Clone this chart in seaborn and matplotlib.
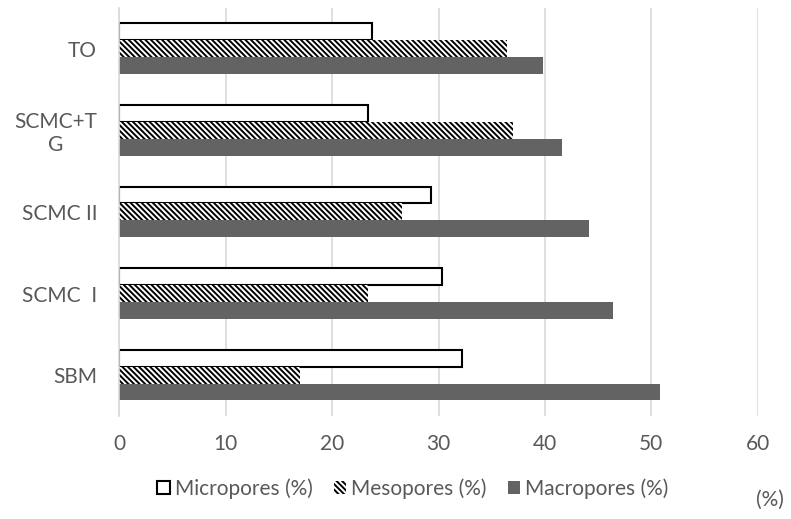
import matplotlib
matplotlib.use("Agg")
import matplotlib.pyplot as plt
from matplotlib.patches import Patch
import seaborn as sns
import pandas as pd

# Pore-size distribution per sample
samples = ["TO", "SCMC+T\nG", "SCMC II", "SCMC  I", "SBM"]
micropores = [23.7, 23.4, 29.3, 30.3, 32.2]
mesopores = [36.4, 37.0, 26.6, 23.4, 17.0]
macropores = [39.8, 41.6, 44.1, 46.4, 50.8]
series = ["Micropores (%)", "Mesopores (%)", "Macropores (%)"]
x_ticks = [0, 10, 20, 30, 40, 50, 60]

df = pd.DataFrame({
    "sample": samples * 3,
    "series": [series[0]] * 5 + [series[1]] * 5 + [series[2]] * 5,
    "value": micropores + mesopores + macropores,
})

sns.set_theme(style="white")
plt.rcParams["font.family"] = ["Lato", "DejaVu Sans"]
plt.rcParams["hatch.linewidth"] = 1.4
plt.rcParams["hatch.color"] = "black"

text_color = "#595959"
grid_color = "#d9d9d9"
macro_color = "#636363"
hatch = "\\" * 6

fig = plt.figure(figsize=(7.91, 5.19), dpi=100)
ax = fig.add_axes([0.151, 0.1985, 0.807, 0.7865])

sns.barplot(data=df, y="sample", x="value", hue="series", order=samples,
            hue_order=series, orient="h", width=0.62, dodge=True,
            palette=["white", "white", macro_color], legend=False, ax=ax)

styles = [
    dict(facecolor="white", edgecolor="black", linewidth=1.5, hatch=None),
    dict(facecolor="white", edgecolor="black", linewidth=0, hatch=hatch),
    dict(facecolor=macro_color, edgecolor=macro_color, linewidth=0, hatch=None),
]
for cont, st in zip(ax.containers, styles):
    for bar in cont:
        bar.set_facecolor(st["facecolor"])
        bar.set_edgecolor(st["edgecolor"])
        bar.set_linewidth(st["linewidth"])
        if st["hatch"]:
            bar.set_hatch(st["hatch"])

ax.set_xlim(0, 60)
ax.set_xticks(x_ticks)
ax.set_xticklabels([str(t) for t in x_ticks])
ax.xaxis.grid(True, color=grid_color, linewidth=1.2)
ax.set_axisbelow(True)
for side in ["top", "right", "bottom"]:
    ax.spines[side].set_visible(False)
ax.spines["left"].set_color(grid_color)
ax.spines["left"].set_linewidth(1.2)
ax.tick_params(axis="both", length=0, labelsize=15, colors=text_color)
ax.tick_params(axis="y", pad=16)
ax.tick_params(axis="x", pad=13)
for lbl in ax.get_yticklabels():
    lbl.set_horizontalalignment("right")
    lbl.set_multialignment("center")
ax.set_xlabel("")
ax.set_ylabel("")

handles = [
    Patch(facecolor="white", edgecolor="black", linewidth=1.5),
    Patch(facecolor="white", edgecolor="black", linewidth=0, hatch=hatch),
    Patch(facecolor=macro_color, edgecolor="none"),
]
fig.legend(handles, series, loc="center", bbox_to_anchor=(0.522, 0.059),
           ncol=3, frameon=False, fontsize=15, labelcolor=text_color,
           handlelength=0.6, handleheight=0.6, handletextpad=0.25,
           columnspacing=1.0)

fig.text(0.974, 0.037, "(%)", ha="center", va="center", fontsize=15,
         color=text_color)

fig.savefig("out.png", dpi=100)
